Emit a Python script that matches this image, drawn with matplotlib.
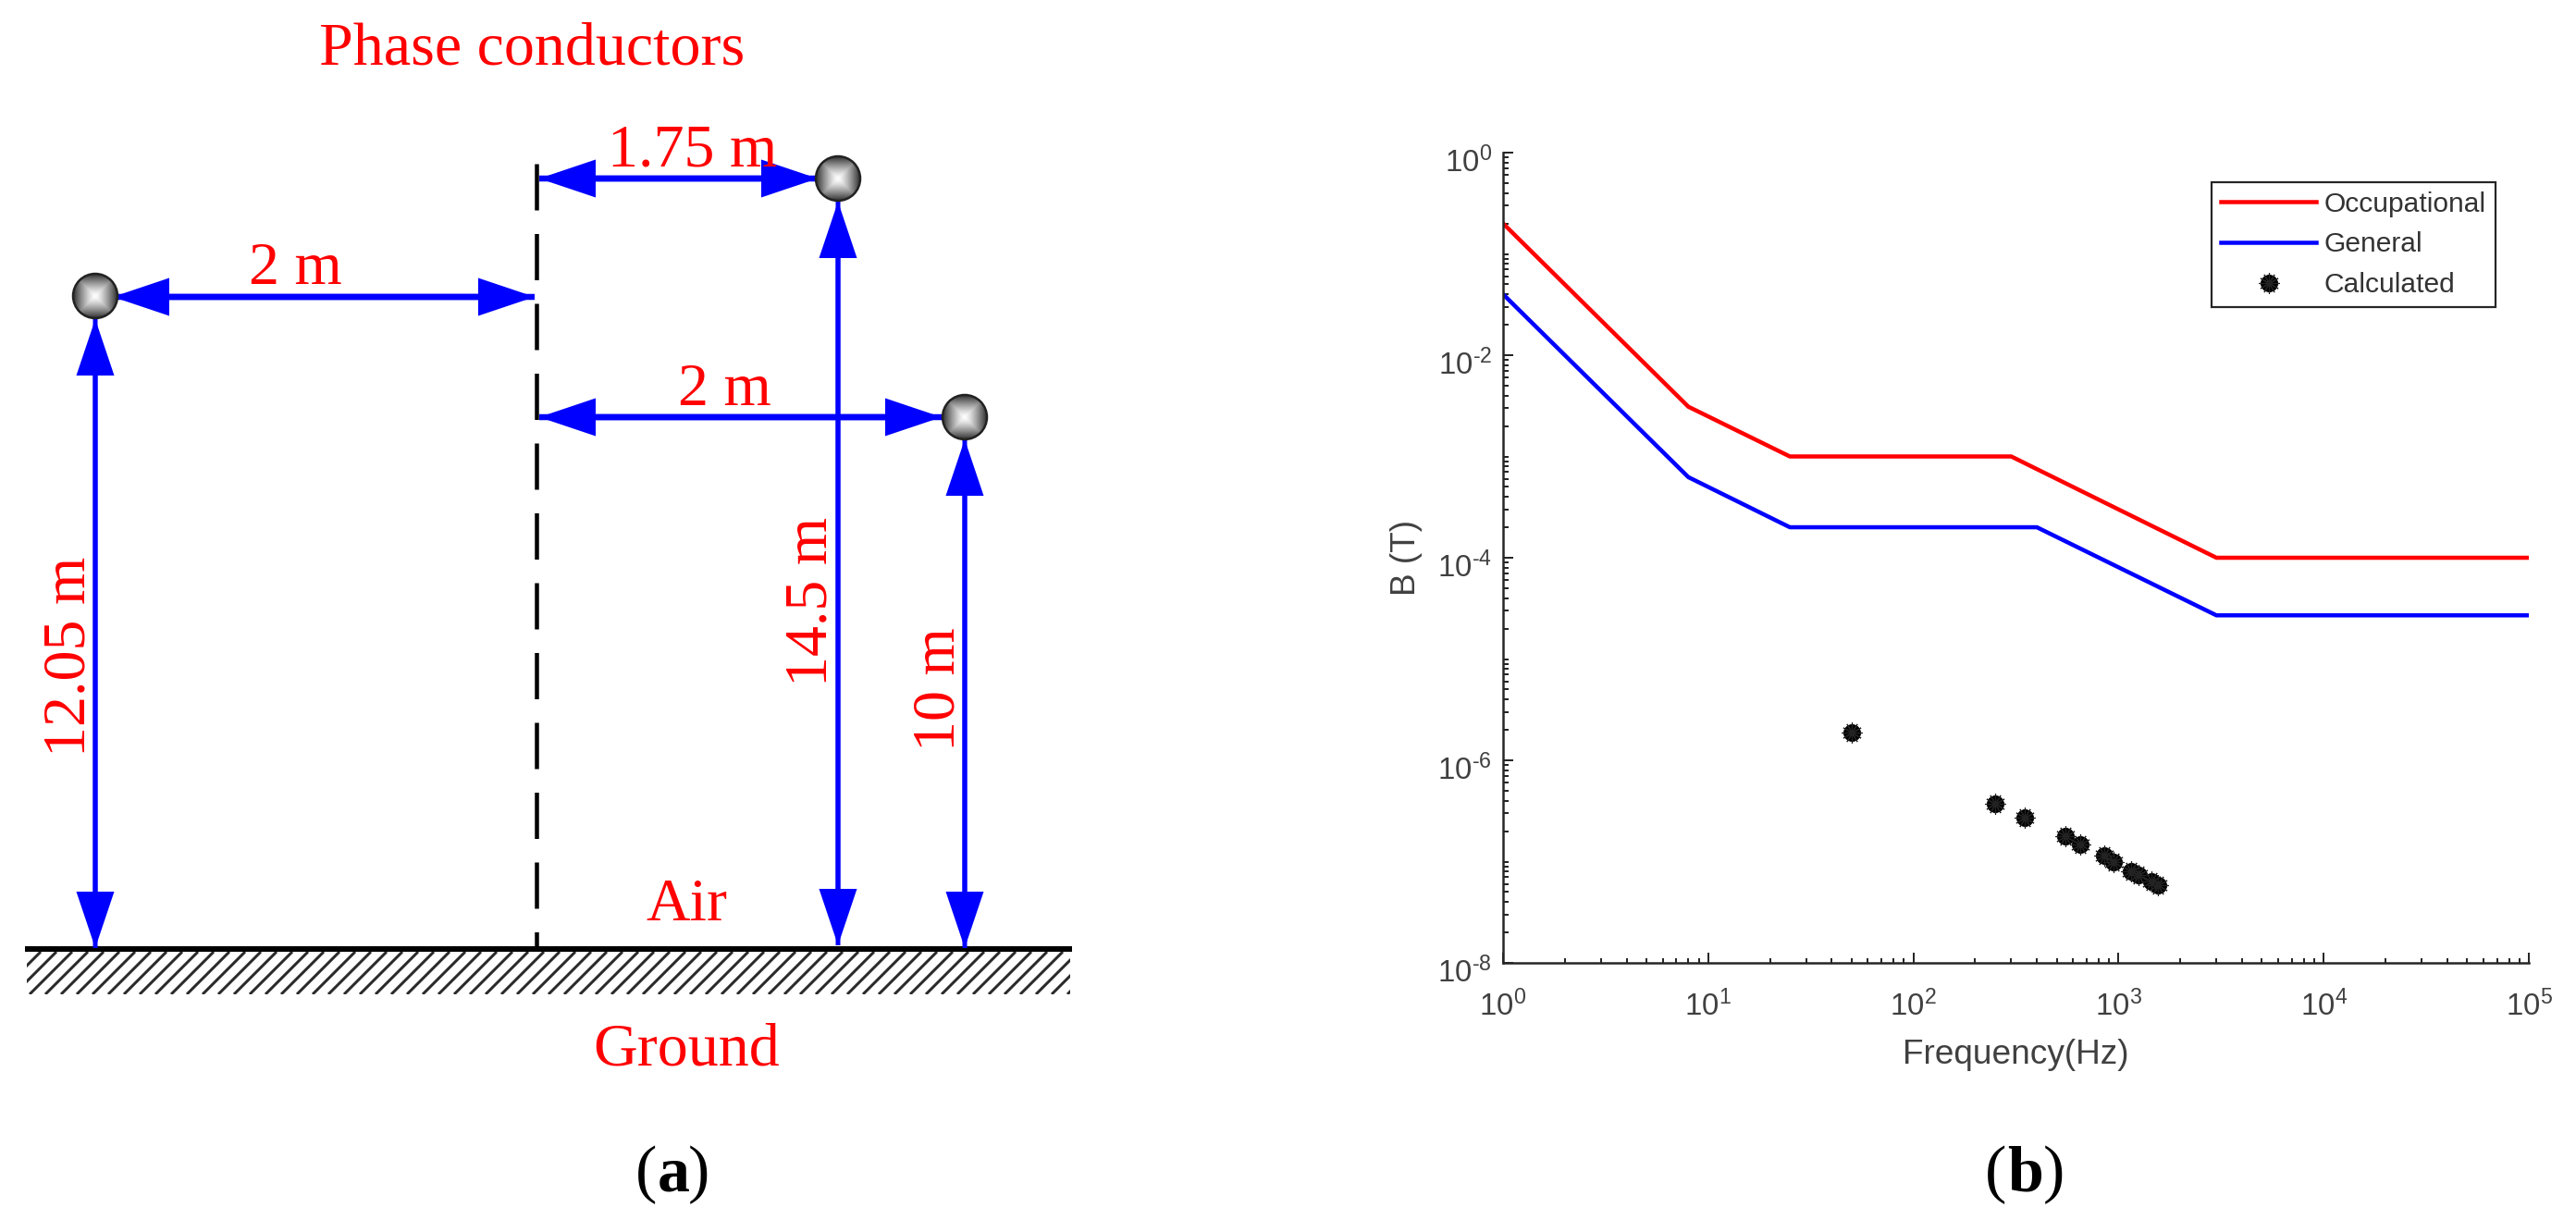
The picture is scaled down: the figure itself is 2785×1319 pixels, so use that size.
import numpy as np
import matplotlib
matplotlib.use("Agg")
import matplotlib.pyplot as plt
from matplotlib.collections import LineCollection
from matplotlib.patches import Circle, FancyArrow, Rectangle
from matplotlib.ticker import FixedLocator, NullFormatter, FixedFormatter
from matplotlib.transforms import ScaledTranslation

W, H = 2785, 1319
DPI = 100

plt.rcParams['font.family'] = ['Liberation Sans', 'DejaVu Sans']
plt.rcParams['mathtext.fontset'] = 'custom'
plt.rcParams['mathtext.rm'] = 'Liberation Sans'

# panel (b) limits
freq_occ = [1, 8, 25, 300, 3000, 100000]
b_occ = [0.2, 3.1e-3, 1e-3, 1e-3, 1e-4, 1e-4]
freq_gen = [1, 8, 25, 400, 3000, 100000]
b_gen = [0.04, 6.25e-4, 2e-4, 2e-4, 2.7e-5, 2.7e-5]

# calculated harmonics
freq_calc = [50, 250, 350, 550, 650, 850, 950, 1150, 1250, 1450, 1550]
b_calc = [1.86e-6, 3.7e-7, 2.7e-7, 1.77e-7, 1.48e-7, 1.14e-7, 1.0e-7, 8.1e-8, 7.4e-8, 6.3e-8, 5.9e-8]

x_ticks = [1, 10, 100, 1000, 10000, 100000]
x_labels = ['0', '1', '2', '3', '4', '5']
y_ticks = [1e-8, 1e-6, 1e-4, 1e-2, 1]
y_labels = ['\\text{-}8', '\\text{-}6', '\\text{-}4', '\\text{-}2', '0']

# panel (a) sketch, in pixels of the sheet
conductor_x = [103, 906, 1043]
conductor_y = [320, 193, 451]
conductor_r = 24
axis_x = 580
axis_top = 177
ground_y = 1026
ground_x = [27, 1159]
hatch_bottom = 1075

h_arrow_x0 = [122, 583, 583]
h_arrow_x1 = [578, 884, 1018]
h_arrow_y = [321, 193, 451]
v_arrow_x = [103, 906, 1043]
v_arrow_top = [345, 218, 475]
v_arrow_bot = [1025, 1022, 1025]

labels_a = ['Phase conductors', '1.75 m', '2 m', '2 m', 'Air', 'Ground']
labels_a_x = [575, 749, 319, 783, 742, 742]
labels_a_y = [69, 180, 307, 438, 995, 1152]

rot_labels = ['12.05 m', '14.5 m', '10 m']
rot_x = [92, 894, 1032]
rot_y = [710, 650, 745]

cap_text = ['(', 'a', ')', '(', 'b', ')']
cap_weight = ['normal', 'bold', 'normal', 'normal', 'bold', 'normal']
cap_x = [687, 711, 744, 2146, 2170, 2209]
cap_y = 1287


def px(v):
    # pixels to points
    return v*72/DPI


def double_arrow(ax, x0, y0, x1, y1, shaft):
    dx, dy = x1-x0, y1-y0
    ax.add_patch(FancyArrow(x0, y0, dx, dy, width=shaft, head_width=41, head_length=61,
                            length_includes_head=True, color='#0000ff', lw=0, zorder=3))
    ax.add_patch(FancyArrow(x1, y1, -dx, -dy, width=shaft, head_width=41, head_length=61,
                            length_includes_head=True, color='#0000ff', lw=0, zorder=3))


def conductor(ax, x, y, r):
    # grey ball with squarish highlight
    g = np.linspace(-1, 1, 41)
    xx, yy = np.meshgrid(g, g)
    shade = 1-0.8*np.maximum(np.abs(xx), np.abs(yy))**1.3
    im = ax.imshow(shade, cmap='gray', vmin=0, vmax=1, extent=[x-r, x+r, y+r, y-r],
                   interpolation='bilinear', zorder=4)
    ring = Circle((x, y), r, facecolor='none', edgecolor='#222222', lw=px(2.5), zorder=5)
    ax.add_patch(ring)
    im.set_clip_path(Circle((x, y), r, transform=ax.transData))


fig = plt.figure(figsize=(W/DPI, H/DPI), dpi=DPI)

# sheet axes for the sketch
sk = fig.add_axes([0, 0, 1, 1])
sk.axis('off')

sk.plot([axis_x, axis_x], [axis_top, ground_y], color='k', lw=px(4.5),
        dashes=(50/4.5, 25.5/4.5), dash_capstyle='butt', zorder=2)
sk.plot(ground_x, [ground_y, ground_y], color='k', lw=px(6), solid_capstyle='butt', zorder=2)

# 45 degree hatch cut off at the ground block edges
hx = np.arange(ground_x[0]-46, ground_x[1]+1, 17)
segs = [[(x, hatch_bottom), (x+46, ground_y+3)] for x in hx]
hatch = LineCollection(segs, colors='#2a2a2a', linewidths=px(3), zorder=1)
sk.add_collection(hatch)
hatch.set_clip_path(Rectangle((ground_x[0]+2, ground_y), ground_x[1]-ground_x[0]-4, hatch_bottom-ground_y,
                              transform=sk.transData))

for x0, x1, y in zip(h_arrow_x0, h_arrow_x1, h_arrow_y):
    double_arrow(sk, x0, y, x1, y, 6.5)
for x, y0, y1 in zip(v_arrow_x, v_arrow_top, v_arrow_bot):
    double_arrow(sk, x, y0, x, y1, 5)
for x, y in zip(conductor_x, conductor_y):
    conductor(sk, x, y, conductor_r)

for s, x, y in zip(labels_a, labels_a_x, labels_a_y):
    sk.text(x, y, s, color='#ff0000', family='Liberation Serif', fontsize=px(66),
            ha='center', va='baseline', zorder=6)
for s, x, y in zip(rot_labels, rot_x, rot_y):
    sk.text(x, y, s, color='#ff0000', family='Liberation Serif', fontsize=px(66),
            rotation=90, ha='center', va='baseline', rotation_mode='anchor', zorder=6)

# panel captions
for s, wt, x in zip(cap_text, cap_weight, cap_x):
    sk.text(x, cap_y, s, family='Liberation Serif', weight=wt, fontsize=px(70), ha='left', va='baseline')

sk.set_xlim(0, W)
sk.set_ylim(H, 0)

# log plot
left, right, top, bottom = 1625, 2734, 165, 1041
ax = fig.add_axes([left/W, 1-bottom/H, (right-left)/W, (bottom-top)/H])
ax.patch.set_alpha(0)
ax.set_xscale('log')
ax.set_yscale('log')

ax.plot(freq_occ, b_occ, color='#ff0000', lw=px(4.5), label='Occupational')
ax.plot(freq_gen, b_gen, color='#0000ff', lw=px(4.5), label='General')
pts, = ax.plot(freq_calc, b_calc, ls='none', marker='o', ms=px(19), color='k', mew=0)
star, = ax.plot(freq_calc, b_calc, ls='none', marker=(12, 2, 0), ms=px(22), color='#222222', mew=px(1.2))

ax.set_xlim(1, 1e5)
ax.set_ylim(1e-8, 1)

ax.spines['top'].set_visible(False)
ax.spines['right'].set_visible(False)
for s in ['left', 'bottom']:
    ax.spines[s].set_linewidth(px(2.5))
    ax.spines[s].set_color('#262626')

ax.xaxis.set_major_locator(FixedLocator(x_ticks))
ax.xaxis.set_major_formatter(FixedFormatter([r'$\mathregular{10^{%s}}$' % s for s in x_labels]))
ax.yaxis.set_major_locator(FixedLocator(y_ticks))
ax.yaxis.set_major_formatter(FixedFormatter([r'$\mathregular{10^{%s}}$' % s for s in y_labels]))

dec_x = np.arange(0, 5)
dec_y = np.arange(-8, 0)
minor_x = [m*10.0**d for d in dec_x for m in range(2, 10)]
minor_y = [m*10.0**d for d in dec_y for m in range(1, 10) if m*10.0**d not in y_ticks]
ax.xaxis.set_minor_locator(FixedLocator(minor_x))
ax.yaxis.set_minor_locator(FixedLocator(minor_y))
ax.xaxis.set_minor_formatter(NullFormatter())
ax.yaxis.set_minor_formatter(NullFormatter())

ax.tick_params(which='major', direction='in', length=px(11), width=px(2), color='#262626',
               labelsize=px(33), labelcolor='#404040')
ax.tick_params(which='minor', direction='in', length=px(5.5), width=px(2), color='#262626')
ax.tick_params(axis='x', which='major', pad=px(30))
ax.tick_params(axis='y', which='major', pad=px(12))

# MATLAB puts the y labels a little under the tick
down = ScaledTranslation(0, -px(7)/72, fig.dpi_scale_trans)
for lab in ax.get_yticklabels():
    lab.set_transform(lab.get_transform()+down)

ax.set_xlabel('Frequency(Hz)', fontsize=px(37), color='#404040')
ax.set_ylabel('B (T)', fontsize=px(37), color='#404040')
ax.xaxis.set_label_coords(0.5, -(1140-bottom)/(bottom-top), transform=ax.transAxes)
ax.xaxis.label.set_va('center')
ax.yaxis.set_label_coords((1520-left)/(right-left), 0.5, transform=ax.transAxes)
ax.yaxis.label.set_va('center')

handles = ax.get_lines()[:2]+[(pts, star)]
leg = ax.legend(handles, ['Occupational', 'General', 'Calculated'], loc='upper left',
                bbox_to_anchor=((2391-left)/(right-left), 1-(197-top)/(bottom-top)),
                borderaxespad=0, fontsize=px(30), fancybox=False, framealpha=1,
                edgecolor='#262626', labelcolor='#333333', handlelength=3.45, handletextpad=0.28,
                labelspacing=0.52, borderpad=0.33)
leg.get_frame().set_linewidth(px(2.2))

fig.savefig('out.png', dpi=DPI)
